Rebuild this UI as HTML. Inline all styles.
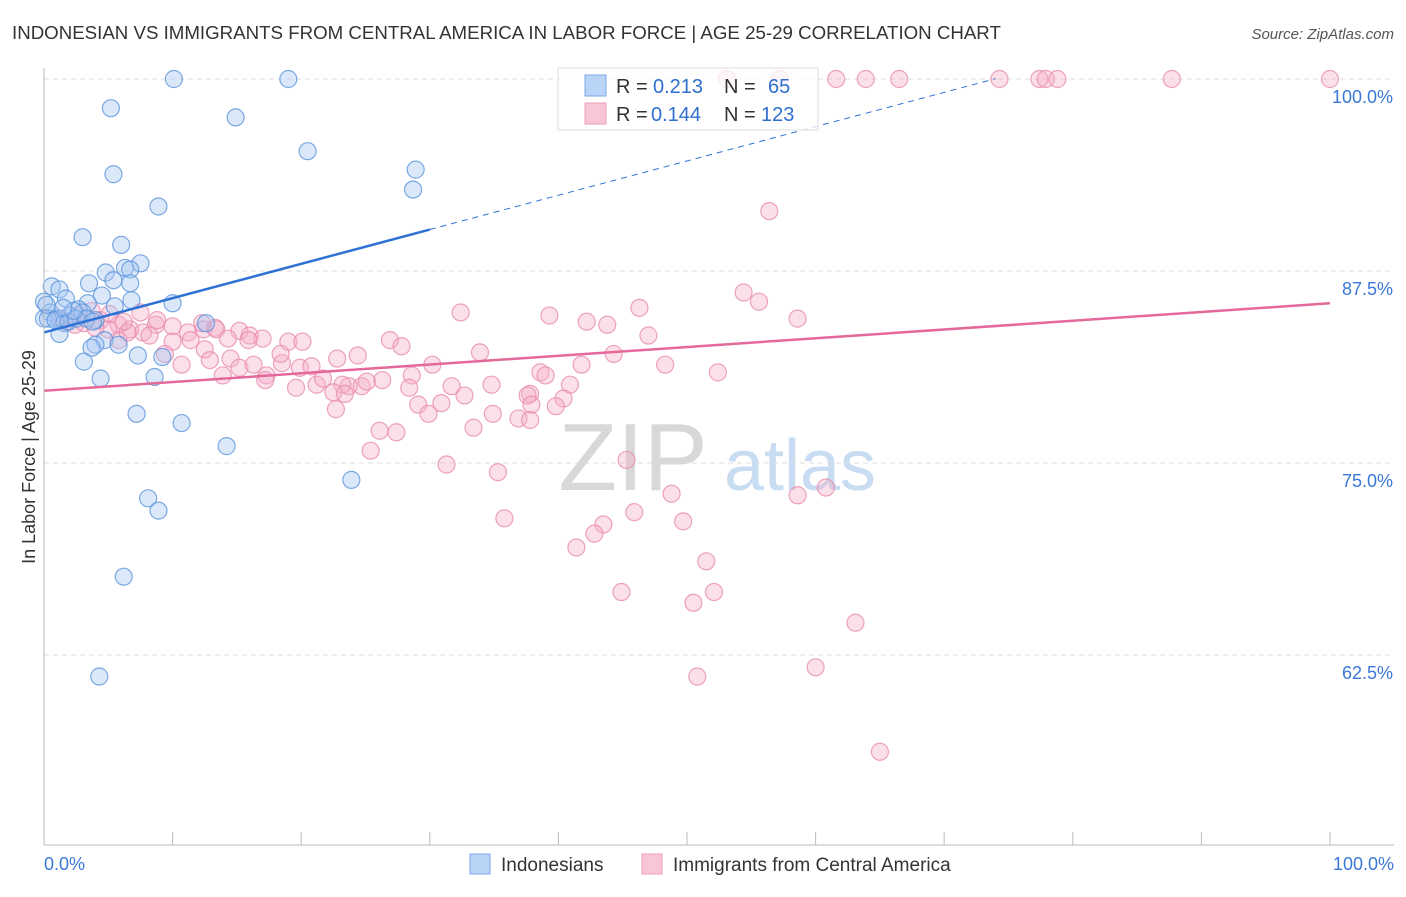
<!DOCTYPE html>
<html><head><meta charset="utf-8"><style>
body{margin:0;background:#fff;font-family:"Liberation Sans",sans-serif;}
svg text{font-family:"Liberation Sans",sans-serif;}
</style></head><body>
<svg id="c" width="1406" height="892">
<text x="12" y="39" font-size="18.7" fill="#333">INDONESIAN VS IMMIGRANTS FROM CENTRAL AMERICA IN LABOR FORCE | AGE 25-29 CORRELATION CHART</text>
<text x="1394" y="39" font-size="15" fill="#555" font-style="italic" text-anchor="end">Source: ZipAtlas.com</text>
<text x="35" y="457" font-size="18" fill="#333" text-anchor="middle" transform="rotate(-90 35 457)">In Labor Force | Age 25-29</text>
<g><text x="633" y="490" font-size="96" font-family="Liberation Serif" fill="#d8d8d8" text-anchor="middle">ZIP</text><text x="800" y="490" font-size="72" fill="#c8dcf2" text-anchor="middle">atlas</text></g>
<g id="grid"></g><g id="marks"></g><g id="axes"></g>
<g>
<rect x="558" y="68" width="260" height="62" fill="#fff" fill-opacity="0.75" stroke="#ddd"/>
<rect x="585" y="75" width="21" height="21" fill="#b8d4f6" stroke="#7aa8e8"/>
<text x="616" y="93" font-size="20" fill="#333">R = </text><text x="653" y="93" font-size="20" fill="#2f6fd0">0.213</text>
<text x="724" y="93" font-size="20" fill="#333">N = </text><text x="768" y="93" font-size="20" fill="#2f6fd0">65</text>
<rect x="585" y="103" width="21" height="21" fill="#f9c6d6" stroke="#eaa0bb"/>
<text x="616" y="121" font-size="20" fill="#333">R = </text><text x="651" y="121" font-size="20" fill="#2f6fd0">0.144</text>
<text x="724" y="121" font-size="20" fill="#333">N = </text><text x="761" y="121" font-size="20" fill="#2f6fd0">123</text>
</g>
<g>
<rect x="470" y="854" width="20" height="20" fill="#b8d4f6" stroke="#7aa8e8"/>
<text x="501" y="871" font-size="19" fill="#333">Indonesians</text>
<rect x="642" y="854" width="20" height="20" fill="#f9c6d6" stroke="#eaa0bb"/>
<text x="673" y="871" font-size="19" fill="#333">Immigrants from Central America</text>
</g>
</svg>
<script>
const yTicks=[100,87.5,75,62.5];
const yTickLabels=["100.0%","87.5%","75.0%","62.5%"];
const xTickLabels=["0.0%","100.0%"];
const blueX=[10.1,19.0,5.2,14.9,20.5,28.9,5.4,28.7,8.9,3.0,6.0,7.5,6.3,4.8,6.7,5.4,3.5,6.7,0.6,1.2,4.5,1.7,0,6.8,10.0,3.4,5.5,2.7,0.5,1.1,2.0,3.0,4.0,1.6,12.6,1.2,4.7,5.8,4.0,3.7,7.3,9.2,3.1,4.4,8.6,7.2,10.7,14.2,23.9,8.1,8.9,6.2,4.3,0,0.3,0.9,1.9,2.5,3.3,3.8,0.2,2.3,1.5];
const blueY=[100,100,98.1,97.5,95.3,94.1,93.8,92.8,91.7,89.7,89.2,88.0,87.7,87.4,87.6,86.9,86.7,86.7,86.5,86.3,85.9,85.7,85.5,85.6,85.4,85.4,85.2,85.0,84.8,84.4,84.6,84.8,84.3,84.1,84.1,83.4,83.0,82.7,82.7,82.5,82.0,81.9,81.6,80.5,80.6,78.2,77.6,76.1,73.9,72.7,71.9,67.6,61.1,84.4,84.4,84.3,84.2,84.4,84.4,84.2,85.3,84.9,85.1];
const pinkX=[53.1,57.2,61.6,63.9,66.5,74.3,77.4,77.9,78.8,87.7,100,56.4,54.4,55.6,46.3,58.6,32.4,39.3,42.2,43.8,47.0,26.9,27.8,44.3,48.3,52.4,33.9,30.2,41.8,38.6,39.0,40.9,40.4,39.8,37.8,37.6,34.8,32.7,31.7,28.6,28.4,26.3,29.1,29.9,30.9,34.9,36.9,33.4,37.9,37.8,26.1,27.4,25.4,31.3,35.3,45.3,48.8,58.6,60.8,35.8,45.9,49.7,43.5,42.8,41.4,51.5,44.9,50.5,52.1,63.1,60.0,50.8,65.0,1.7,3.1,4.4,5.8,6.7,7.7,8.7,10.0,11.2,12.4,13.3,15.2,16.0,17.0,19.0,20.1,10.0,8.2,11.4,12.5,9.4,5.8,10.7,14.5,13.9,15.2,16.3,17.3,18.5,19.9,19.6,21.2,20.8,21.7,22.8,23.7,24.4,23.2,22.5,23.4,24.7,25.1,22.7,17.2,13.4,6.5,5.0,2.4,4.0,1.3,2.7,3.7,5.1,6.2,7.5,8.8,12.3,14.3,15.9,12.9,18.4];
const pinkY=[100,100,100,100,100,100,100,100,100,100,100,91.4,86.1,85.5,85.1,84.4,84.8,84.6,84.2,84.0,83.3,83.0,82.6,82.1,81.4,80.9,82.2,81.4,81.4,80.9,80.7,80.1,79.2,78.7,79.5,79.4,80.1,79.4,80.0,80.7,79.9,80.4,78.8,78.2,78.9,78.2,77.9,77.3,78.8,77.8,77.1,77.0,75.8,74.9,74.4,75.2,73.0,72.9,73.4,71.4,71.8,71.2,71.0,70.4,69.5,68.6,66.6,65.9,66.6,64.6,61.7,61.1,56.2,84.2,84.1,84.3,84.0,83.7,83.5,84.0,83.9,83.5,83.7,83.8,83.6,83.3,83.1,82.9,82.9,82.9,83.3,83.0,82.4,82.1,83.0,81.4,81.8,80.7,81.2,81.4,80.7,81.5,81.2,79.9,80.1,81.3,80.5,81.8,80.0,82.0,80.1,79.6,79.5,80.0,80.3,78.5,80.4,83.7,83.5,83.7,84.0,83.8,84.4,84.6,84.9,84.7,84.2,84.8,84.3,84.1,83.1,83.0,81.7,82.1];
const blueTrend=[83.5,0.2233];
const pinkTrend=[79.7,0.057];
const NS="http://www.w3.org/2000/svg";
const xs=v=>44+v*12.86;
const ys=v=>79+(100-v)*15.36;
function mk(t,a,p){const e=document.createElementNS(NS,t);for(const k in a)e.setAttribute(k,a[k]);p.appendChild(e);return e;}
const grid=document.getElementById('grid'),marks=document.getElementById('marks'),axes=document.getElementById('axes');
yTicks.forEach((v,i)=>{
 const l=mk('line',{x1:44,x2:1394,y1:ys(v),y2:ys(v),stroke:'#ddd','stroke-dasharray':'5,4'},grid);
 
 
 const t=mk('text',{x:1393,y:ys(v)+24,'font-size':18,fill:'#3a78d8','text-anchor':'end'},axes);
 t.textContent=yTickLabels[i];
 
 
});
const ax=mk('line',{x1:44,x2:44,y1:68,y2:845,stroke:'#bbb'},axes);


const bx=mk('line',{x1:44,x2:1394,y1:845,y2:845,stroke:'#bbb'},axes);


for(let i=0;i<=10;i++){const t=mk('line',{x1:xs(i*10),x2:xs(i*10),y1:832,y2:845,stroke:'#bbb'},axes);
 
 }
[[0,'start',44],[1,'end',1394]].forEach(([i,a,x])=>{const t=mk('text',{x:x,y:870,'font-size':18,fill:'#3a78d8','text-anchor':a},axes);t.textContent=xTickLabels[i];
 
 });
function pts(X,Y,fill,stroke,name){X.forEach((x,i)=>{const c=mk('circle',{cx:xs(x),cy:ys(Y[i]),r:8.5,fill:fill,'fill-opacity':0.4,stroke:stroke,'stroke-width':1.2,'stroke-opacity':0.8},marks);
 
 });}
pts(pinkX,pinkY,'#f5b0c8','#e88cad','pink-point');
pts(blueX,blueY,'#a4c6f2','#5d95dc','blue-point');
const b1=mk('line',{x1:xs(0),y1:ys(blueTrend[0]),x2:xs(30),y2:ys(blueTrend[0]+30*blueTrend[1]),stroke:'#2f72d6','stroke-width':2.5},marks);


const b2=mk('line',{x1:xs(30),y1:ys(blueTrend[0]+30*blueTrend[1]),x2:xs(74),y2:ys(blueTrend[0]+74*blueTrend[1]),stroke:'#2f72d6','stroke-width':1,'stroke-dasharray':'6,5'},marks);


const p1=mk('line',{x1:xs(0),y1:ys(pinkTrend[0]),x2:xs(100),y2:ys(pinkTrend[0]+100*pinkTrend[1]),stroke:'#e4689a','stroke-width':2.5},marks);


</script>
</body></html>
